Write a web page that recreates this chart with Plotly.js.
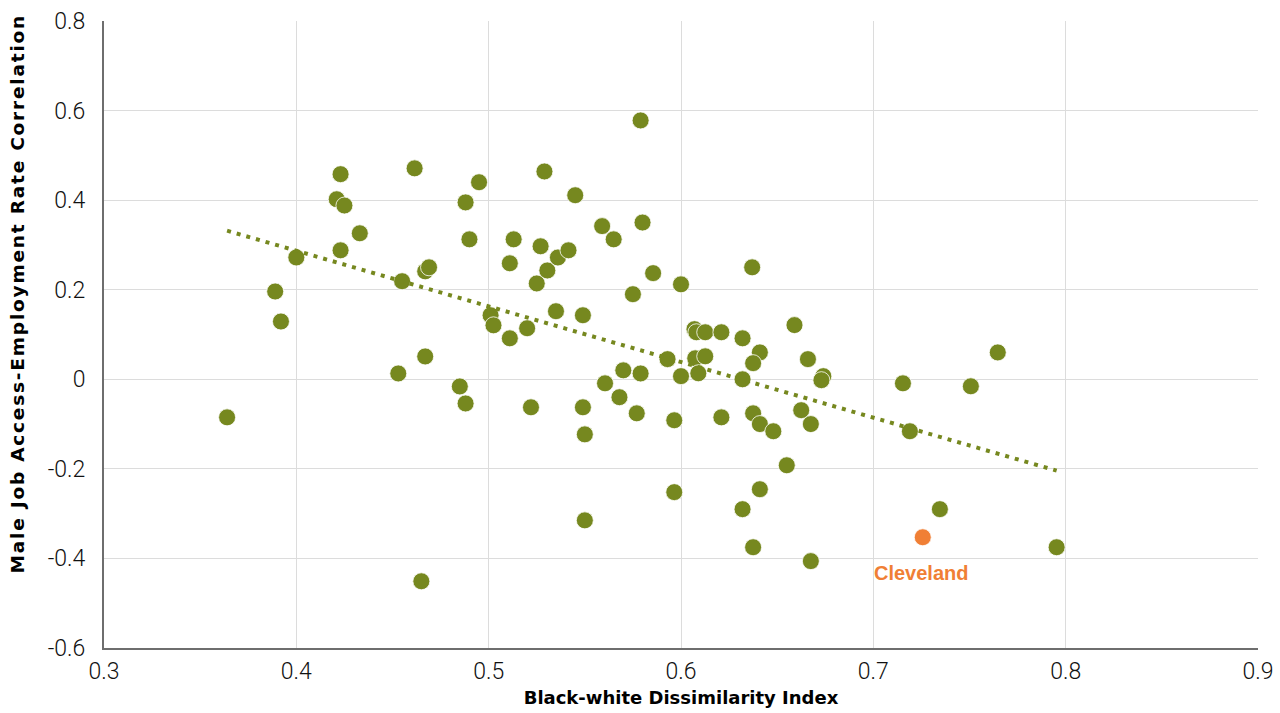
<!DOCTYPE html>
<html>
<head>
<meta charset="utf-8">
<script src="https://cdn.plot.ly/plotly-3.0.1.min.js"></script>
<style>
html,body{margin:0;padding:0;background:#fff;}
#chart{width:1280px;height:713px;}
#chart g.annotation[data-index="0"] text{letter-spacing:1.8px;}
</style>
</head>
<body>
<div id="chart"></div>
<script>
// Metro areas: dissimilarity index (x) vs. male job access-employment correlation (y)
const dissimilarity = [
  0.364, 0.389, 0.392, 0.400, 0.421, 0.423, 0.425, 0.423, 0.433, 0.455,
  0.453, 0.4615, 0.465, 0.467, 0.469, 0.467, 0.485, 0.488, 0.488, 0.495,
  0.490, 0.501, 0.5025, 0.511, 0.511, 0.513, 0.520, 0.522, 0.525, 0.527,
  0.529, 0.5305, 0.535, 0.536, 0.5415, 0.545, 0.549, 0.549, 0.550, 0.550,
  0.559, 0.5605, 0.565, 0.568, 0.570, 0.575, 0.577, 0.579, 0.579, 0.580,
  0.5855, 0.593, 0.5965, 0.5965, 0.600, 0.600, 0.607, 0.608, 0.6126, 0.621,
  0.6074, 0.6126, 0.609, 0.632, 0.641, 0.6375, 0.632, 0.659, 0.666, 0.674,
  0.673, 0.7154, 0.719, 0.621, 0.6375, 0.641, 0.648, 0.6625, 0.6675, 0.655,
  0.637, 0.641, 0.632, 0.6375, 0.6675, 0.7346, 0.7507, 0.7647, 0.7953
];
const correlation = [
  -0.085, 0.196, 0.129, 0.272, 0.402, 0.458, 0.388, 0.288, 0.326, 0.219,
  0.013, 0.471, -0.451, 0.241, 0.250, 0.051, -0.016, -0.054, 0.395, 0.440,
  0.3125, 0.143, 0.1205, 0.0915, 0.259, 0.3125, 0.114, -0.0625, 0.214, 0.297,
  0.464, 0.243, 0.152, 0.272, 0.288, 0.411, 0.143, -0.0625, -0.123, -0.315,
  0.342, -0.009, 0.3125, -0.040, 0.020, 0.190, -0.076, 0.578, 0.013, 0.350,
  0.237, 0.045, -0.0915, -0.252, 0.212, 0.007, 0.112, 0.105, 0.105, 0.105,
  0.0469, 0.0513, 0.0134, 0.0915, 0.060, 0.036, 0.000, 0.121, 0.045, 0.007,
  -0.002, -0.009, -0.116, -0.085, -0.076, -0.100, -0.116, -0.069, -0.100, -0.192,
  0.250, -0.2455, -0.290, -0.375, -0.406, -0.290, -0.0156, 0.060, -0.375
];
const highlightName = ["Cleveland"];
const highlightX = [0.7257];
const highlightY = [-0.3527];

const xTicks = [0.3, 0.4, 0.5, 0.6, 0.7, 0.8, 0.9];
const yTicks = [-0.6, -0.4, -0.2, 0, 0.2, 0.4, 0.6, 0.8];
const xTitle = 'Black-white Dissimilarity Index';
const yTitle = 'Male Job Access-Employment Rate Correlation';

// Least-squares linear trend across all metros
const allX = dissimilarity.concat(highlightX);
const allY = correlation.concat(highlightY);
const n = allX.length;
const mx = allX.reduce((a, b) => a + b, 0) / n;
const my = allY.reduce((a, b) => a + b, 0) / n;
let sxy = 0, sxx = 0;
for (let i = 0; i < n; i++) { sxy += (allX[i] - mx) * (allY[i] - my); sxx += (allX[i] - mx) ** 2; }
const slope = sxy / sxx, intercept = my - slope * mx;
const xmin = Math.min(...allX), xmax = Math.max(...allX);
const trendX = [xmin, xmax];
const trendY = trendX.map(v => intercept + slope * v);

const olive = '#76881F';
const orange = '#F07F35';
const tickFont = { family: 'Roboto, Liberation Sans, Arial, sans-serif', size: 23, color: '#111', weight: 300 };
const xTitleFont = { family: 'DejaVu Sans, Liberation Sans, Arial, sans-serif', size: 18, color: '#000', weight: 'bold' };
const yTitleFont = { family: 'DejaVu Sans, Liberation Sans, Arial, sans-serif', size: 18.5, color: '#000', weight: 'bold' };

const traces = [
  { x: dissimilarity, y: correlation, type: 'scatter', mode: 'markers',
    marker: { color: olive, size: 17, line: { color: '#ffffff', width: 0.8 } },
    hoverinfo: 'x+y', showlegend: false },
  { x: trendX, y: trendY, type: 'scatter', mode: 'lines',
    line: { color: olive, width: 4, dash: '4px,6px' }, hoverinfo: 'skip', showlegend: false },
  { x: highlightX, y: highlightY, type: 'scatter', mode: 'markers',
    marker: { color: orange, size: 17, line: { color: '#ffffff', width: 0.8 } },
    hoverinfo: 'x+y', showlegend: false }
];

const annotations = [
  { xref: 'paper', yref: 'paper', x: -0.0745, y: 0.565, xanchor: 'center', yanchor: 'middle',
    text: yTitle, textangle: -90, showarrow: false, font: yTitleFont }
].concat(highlightName.map((name, i) => ({
    x: highlightX[i], y: highlightY[i], xref: 'x', yref: 'y',
    text: '<b>' + name + '</b>', showarrow: false, yshift: -36, xshift: -2,
    font: { family: 'Liberation Sans, Arial, sans-serif', size: 20, color: orange }
})));

const layout = {
  width: 1280, height: 713,
  margin: { l: 104, r: 22, t: 21, b: 65 },
  paper_bgcolor: '#ffffff', plot_bgcolor: '#ffffff',
  font: { family: 'Liberation Sans, Arial, sans-serif', color: '#000' },
  xaxis: {
    range: [0.3, 0.9], tickvals: xTicks, ticktext: xTicks.map(String),
    showgrid: true, gridcolor: '#dcdcdc', gridwidth: 1,
    zeroline: false, showline: true, linecolor: '#6e6e6e', linewidth: 2,
    ticks: '', tickfont: tickFont, ticklabelstandoff: 1,
    title: { text: xTitle, standoff: 8, font: xTitleFont }
  },
  yaxis: {
    range: [-0.6, 0.8], tickvals: yTicks, ticktext: yTicks.map(String),
    showgrid: true, gridcolor: '#dcdcdc', gridwidth: 1,
    zeroline: false, showline: true, linecolor: '#6e6e6e', linewidth: 2,
    ticks: '', tickfont: tickFont, ticklabelstandoff: 12
  },
  annotations: annotations,
  showlegend: false
};

Plotly.newPlot('chart', traces, layout, { displayModeBar: false, staticPlot: true });
</script>
</body>
</html>
